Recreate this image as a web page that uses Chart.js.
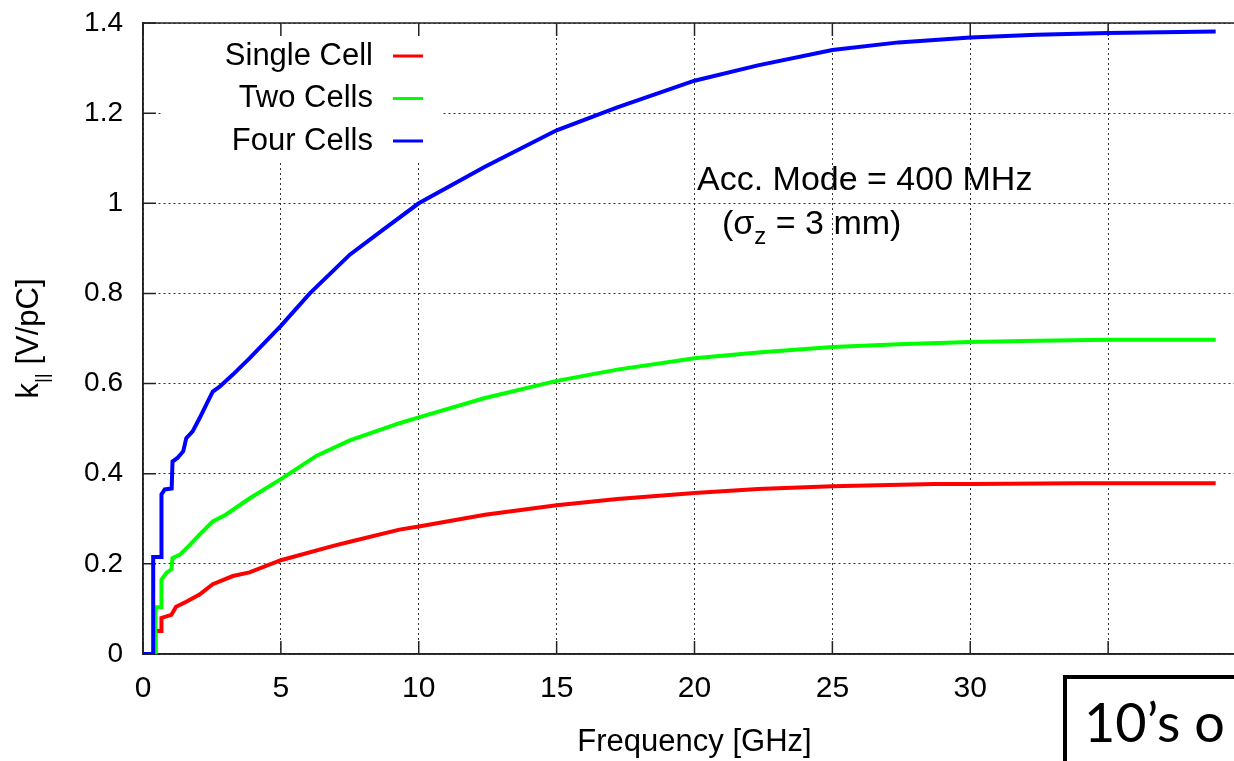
<!DOCTYPE html>
<html>
<head>
<meta charset="utf-8">
<script src="https://cdn.jsdelivr.net/npm/chart.js@4/dist/chart.umd.min.js"></script>
<style>
    html, body { margin: 0; padding: 0; background: #fff; overflow: hidden; }
    #wrap { position: relative; width: 1234px; height: 761px; overflow: hidden; }
    #chart { position: absolute; left: 0; top: 0; }
    #note {
        position: absolute; left: 1063px; top: 675px; width: 220px; height: 120px;
        background: #fff; border-left: 4px solid #000; border-top: 4px solid #000;
        font-family: Lato, 'Open Sans', sans-serif; font-size: 54px; line-height: 1;
        padding: 16px 0 0 17px; box-sizing: border-box; color: #000; white-space: nowrap;
    }
</style>
</head>
<body>
<div id="wrap">
    <canvas id="chart" width="1262" height="761"></canvas>
    <div id="note">10’s o</div>
</div>
<script>
// Data (frequency in GHz, k in V/pC)
const singleFreq = [0, 0.45, 0.45, 0.67, 0.67, 1.03, 1.2, 1.57, 2.05, 2.53, 3.26, 3.86, 5, 6.9, 7.5, 9.3, 10, 12.4, 15, 17.2, 20, 22.3, 25, 28.7, 30, 33.9, 38.9];
const singleK    = [0, 0, 0.051, 0.051, 0.080, 0.087, 0.105, 0.116, 0.132, 0.155, 0.173, 0.181, 0.208, 0.240, 0.249, 0.276, 0.283, 0.309, 0.330, 0.344, 0.357, 0.366, 0.372, 0.377, 0.377, 0.379, 0.379];

const twoFreq = [0, 0.45, 0.45, 0.67, 0.67, 0.85, 1.03, 1.07, 1.33, 1.7, 2.05, 2.53, 3.0, 3.86, 5, 6.3, 7.5, 9.3, 10, 12.4, 15, 17.2, 20, 22.3, 25, 27.4, 30, 32.4, 35, 38.9];
const twoK    = [0, 0, 0.104, 0.104, 0.165, 0.180, 0.188, 0.213, 0.220, 0.242, 0.265, 0.294, 0.309, 0.345, 0.388, 0.440, 0.474, 0.512, 0.525, 0.568, 0.606, 0.631, 0.656, 0.669, 0.681, 0.687, 0.692, 0.695, 0.697, 0.697];

const fourFreq = [0, 0.37, 0.37, 0.67, 0.67, 0.79, 1.04, 1.07, 1.25, 1.46, 1.57, 1.8, 2.05, 2.29, 2.53, 2.78, 3.26, 3.86, 5, 6.05, 7.5, 8.7, 10, 12.4, 15, 17.2, 20, 22.3, 25, 27.4, 30, 32.4, 35, 38.9];
const fourK    = [0, 0, 0.215, 0.215, 0.354, 0.365, 0.367, 0.427, 0.435, 0.450, 0.479, 0.494, 0.523, 0.553, 0.582, 0.593, 0.620, 0.656, 0.728, 0.800, 0.886, 0.941, 1.000, 1.081, 1.162, 1.213, 1.272, 1.306, 1.340, 1.357, 1.368, 1.374, 1.378, 1.381];

const seriesNames = ['Single Cell', 'Two Cells', 'Four Cells'];
const seriesColors = ['#ff0000', '#00ff00', '#0000ff'];

const xTicks = [0, 5, 10, 15, 20, 25, 30, 35, 40];
const yTicks = [0, 0.2, 0.4, 0.6, 0.8, 1, 1.2, 1.4];

const FONT = "'Liberation Sans', Arial, Helvetica, sans-serif";

const toPoints = (fs, ks) => fs.map((f, i) => ({ x: f, y: ks[i] }));

// gnuplot style frame, inner ticks, key box, y title and label
const decorations = {
    id: 'decorations',
    beforeDatasetsDraw(chart) {
        const { ctx, chartArea: a, scales: { x, y } } = chart;
        ctx.save();

        // key box (white, hides the grid)
        ctx.fillStyle = '#fff';
        ctx.fillRect(a.left + 19, a.top + 1, 281, 137);

        ctx.strokeStyle = '#222';
        ctx.lineWidth = 1.5;
        ctx.beginPath();
        xTicks.forEach(v => {
            const px = x.getPixelForValue(v);
            ctx.moveTo(px, a.bottom); ctx.lineTo(px, a.bottom - 13);
            ctx.moveTo(px, a.top); ctx.lineTo(px, a.top + 13);
        });
        yTicks.forEach(v => {
            const py = y.getPixelForValue(v);
            ctx.moveTo(a.left, py); ctx.lineTo(a.left + 13, py);
        });
        ctx.stroke();
        ctx.strokeRect(a.left, a.top, a.right - a.left, a.bottom - a.top);

        // key entries
        ctx.font = '31px ' + FONT;
        ctx.textAlign = 'right';
        ctx.textBaseline = 'middle';
        seriesNames.forEach((name, i) => {
            const ly = a.top + 33 + i * 42.5;
            ctx.fillStyle = '#000';
            ctx.fillText(name, a.left + 230, ly);
            ctx.strokeStyle = seriesColors[i];
            ctx.lineWidth = 3;
            ctx.beginPath();
            ctx.moveTo(a.left + 250, ly);
            ctx.lineTo(a.left + 280, ly);
            ctx.stroke();
        });

        // label
        ctx.fillStyle = '#000';
        ctx.textAlign = 'left';
        ctx.textBaseline = 'alphabetic';
        ctx.font = '34px ' + FONT;
        ctx.fillText('Acc. Mode = 400 MHz', 697, 190);
        let tx = 722;
        ctx.fillText('(σ', tx, 234);
        tx += ctx.measureText('(σ').width;
        ctx.font = '24px ' + FONT;
        ctx.fillText('z', tx, 244);
        tx += ctx.measureText('z').width;
        ctx.font = '34px ' + FONT;
        ctx.fillText(' = 3 mm)', tx, 234);

        // y axis title with subscript
        ctx.translate(38, (a.top + a.bottom) / 2);
        ctx.rotate(-Math.PI / 2);
        ctx.font = '31px ' + FONT;
        const wk = ctx.measureText('k').width;
        const wr = ctx.measureText(' [V/pC]').width;
        ctx.font = '19px ' + FONT;
        const ws = ctx.measureText('||').width;
        let u = -(wk + ws + wr) / 2;
        ctx.font = '31px ' + FONT;
        ctx.fillText('k', u, 0);
        u += wk;
        ctx.font = '19px ' + FONT;
        ctx.fillText('||', u, 10);
        u += ws;
        ctx.font = '31px ' + FONT;
        ctx.fillText(' [V/pC]', u, 0);

        ctx.restore();
    }
};

const ctx = document.getElementById('chart').getContext('2d');
const myChart = new Chart(ctx, {
    type: 'scatter',
    data: {
        datasets: [
            { label: seriesNames[2], data: toPoints(fourFreq, fourK), borderColor: seriesColors[2], order: 0 },
            { label: seriesNames[1], data: toPoints(twoFreq, twoK), borderColor: seriesColors[1], order: 1 },
            { label: seriesNames[0], data: toPoints(singleFreq, singleK), borderColor: seriesColors[0], order: 2 }
        ].map(d => Object.assign(d, { showLine: true, pointRadius: 0, borderWidth: 4, tension: 0, fill: false }))
    },
    options: {
        responsive: false,
        animation: false,
        layout: { padding: { top: 23, right: 16, left: 0, bottom: 0 } },
        plugins: {
            legend: { display: false },
            tooltip: { enabled: false }
        },
        scales: {
            x: {
                type: 'linear',
                min: 0,
                max: 40,
                afterBuildTicks: s => { s.ticks = xTicks.map(v => ({ value: v })); },
                afterFit: s => { s.height = 107; s.paddingLeft = 0; s.paddingRight = 0; },
                ticks: {
                    color: '#000',
                    padding: 17,
                    font: { family: FONT, size: 30 },
                    callback: v => String(v)
                },
                grid: { color: '#333', lineWidth: 1, drawTicks: false },
                border: { color: '#222', width: 1.5, dash: [2, 3] },
                title: {
                    display: true,
                    text: 'Frequency [GHz]',
                    color: '#000',
                    font: { family: FONT, size: 31 },
                    padding: { top: 0, bottom: 0 }
                }
            },
            y: {
                min: 0,
                max: 1.4,
                afterBuildTicks: s => { s.ticks = yTicks.map(v => ({ value: v })); },
                afterFit: s => { s.width = 143; s.paddingTop = 0; s.paddingBottom = 0; },
                ticks: {
                    color: '#000',
                    padding: 20,
                    font: { family: FONT, size: 28 },
                    callback: v => String(v)
                },
                grid: { color: '#333', lineWidth: 1, drawTicks: false },
                border: { color: '#222', width: 1.5, dash: [2, 3] }
            }
        }
    },
    plugins: [decorations]
});
</script>
</body>
</html>
